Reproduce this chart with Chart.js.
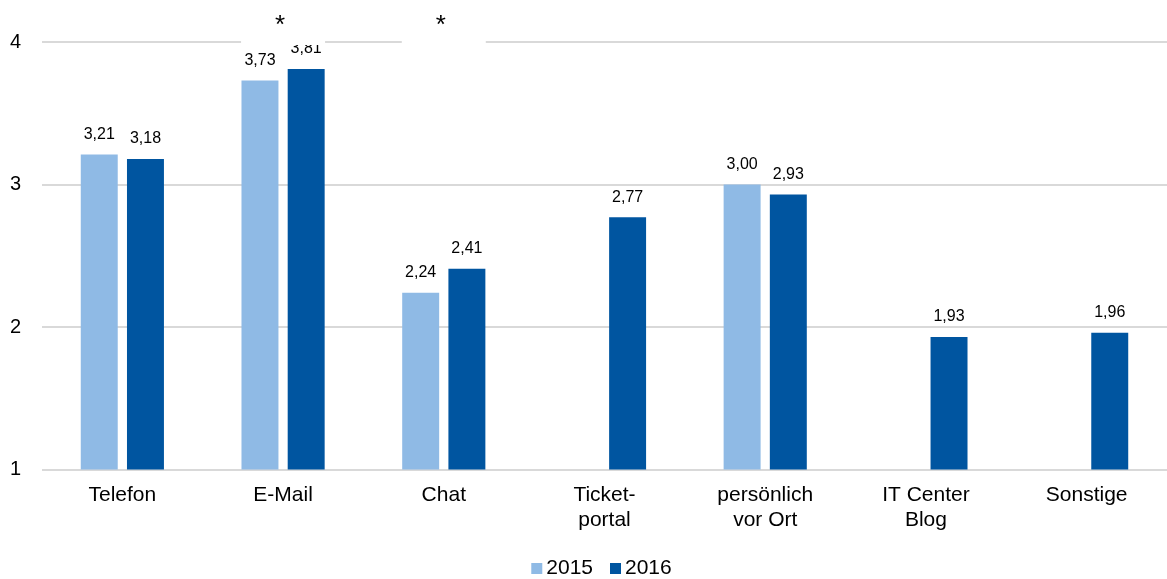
<!DOCTYPE html>
<html>
<head>
<meta charset="utf-8">
<script src="https://cdn.jsdelivr.net/npm/chart.js@4"></script>
<style>
html,body{margin:0;padding:0;background:#fff;}
#wrap{width:1167px;height:579px;position:relative;}
</style>
</head>
<body>
<div id="wrap"><canvas id="c" width="1167" height="579"></canvas></div>
<script>
const categories = [["Telefon"],["E-Mail"],["Chat"],["Ticket-","portal"],["persönlich","vor Ort"],["IT Center","Blog"],["Sonstige"]];
const values2015 = [3.21, 3.73, 2.24, null, 3.00, null, null];
const values2016 = [3.18, 3.81, 2.41, 2.77, 2.93, 1.93, 1.96];
const seriesNames = ["2015", "2016"];
const seriesColors = ["#8FBAE5", "#0055A0"];
const yTicks = [1, 2, 3, 4];
const starredCategories = [1, 2];

const FONT = 'Arial, "Liberation Sans", sans-serif';

const labelPlugin = {
  id: 'valueLabels',
  afterDatasetsDraw(chart) {
    const ctx = chart.ctx;
    ctx.save();
    ctx.font = '16px ' + FONT;
    ctx.fillStyle = '#000';
    ctx.textAlign = 'center';
    ctx.textBaseline = 'middle';
    chart.data.datasets.forEach((ds, i) => {
      const meta = chart.getDatasetMeta(i);
      meta.data.forEach((bar, j) => {
        const v = ds.data[j];
        if (v === null || v === undefined) return;
        ctx.fillText(v.toFixed(2).replace('.', ','), bar.x, bar.y - 20);
      });
    });
    ctx.restore();
  },
  afterDraw(chart) {
    const ctx = chart.ctx;
    const xs = chart.scales.x;
    const ys = chart.scales.y;
    ctx.save();
    starredCategories.forEach(idx => {
      const cx = xs.getPixelForValue(idx);
      const gy = ys.getPixelForValue(4);
      ctx.fillStyle = '#fff';
      ctx.fillRect(cx - 42, gy - 2, 84, 5);
      ctx.fillStyle = '#000';
      ctx.font = '26px ' + FONT;
      ctx.textAlign = 'center';
      ctx.textBaseline = 'middle';
      ctx.fillText('*', cx - 3, gy - 16);
    });
    // custom legend
    ctx.font = '21px ' + FONT;
    ctx.textAlign = 'left';
    ctx.textBaseline = 'middle';
    const boxSize = 11, gapBoxText = 4, gapItems = 17;
    const widths = seriesNames.map(n => boxSize + gapBoxText + ctx.measureText(n).width);
    const total = widths.reduce((a, b) => a + b, 0) + gapItems * (seriesNames.length - 1);
    const area = chart.chartArea;
    let x = (area.left + area.right) / 2 - 3 - total / 2;
    const cy = 568;
    seriesNames.forEach((n, i) => {
      ctx.fillStyle = seriesColors[i];
      ctx.fillRect(x, cy - 5, boxSize, boxSize);
      ctx.fillStyle = '#000';
      ctx.fillText(n, x + boxSize + gapBoxText, cy);
      x += widths[i] + gapItems;
    });
    ctx.restore();
  }
};

new Chart(document.getElementById('c'), {
  type: 'bar',
  data: {
    labels: categories,
    datasets: seriesNames.map((n, i) => ({
      label: n,
      data: i === 0 ? values2015 : values2016,
      backgroundColor: seriesColors[i],
      categoryPercentage: 0.575,
      barPercentage: 0.80,
      maxBarThickness: 37
    }))
  },
  options: {
    responsive: false,
    animation: false,
    devicePixelRatio: 1,
    layout: { padding: { top: 42, right: 0, left: 0, bottom: 33 } },
    plugins: {
      legend: { display: false },
      tooltip: { enabled: false }
    },
    scales: {
      x: {
        grid: { display: false, drawTicks: false },
        border: { display: false },
        ticks: {
          color: '#000', padding: 13, maxRotation: 0, autoSkip: false,
          font: { size: 21, family: FONT, lineHeight: 1.2 }
        }
      },
      y: {
        min: 1, max: 4,
        afterBuildTicks(scale) { scale.ticks = yTicks.map(v => ({ value: v })); },
        afterFit(scale) { scale.width = 42; },
        grid: { color: '#D9D9D9', lineWidth: 2, drawTicks: false },
        border: { display: false },
        ticks: {
          color: '#000', padding: 21,
          font: { size: 20, family: FONT }
        }
      }
    }
  },
  plugins: [labelPlugin]
});
</script>
</body>
</html>
